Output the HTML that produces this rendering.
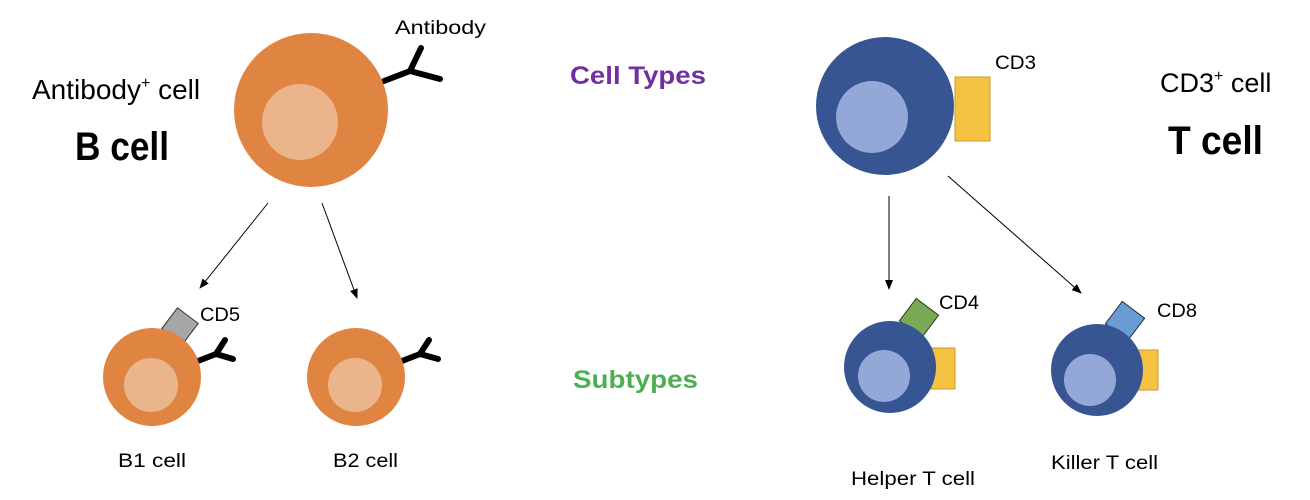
<!DOCTYPE html><html><head><style>body{margin:0;background:#fff}svg{display:block}text{font-family:"Liberation Sans",sans-serif}</style></head><body>
<svg width="1310" height="500" viewBox="0 0 1310 500">
<defs><marker id="a" markerWidth="10" markerHeight="8" refX="9" refY="4" orient="auto" markerUnits="userSpaceOnUse"><path d="M0,0L10,4L0,8z" fill="#000"/></marker></defs>
<g fill="none" stroke="#000" stroke-width="1">
<line x1="268" y1="203" x2="200" y2="288" marker-end="url(#a)"/>
<line x1="322" y1="203" x2="357" y2="298" marker-end="url(#a)"/>
<line x1="889" y1="196" x2="889" y2="289" marker-end="url(#a)"/>
<line x1="948" y1="176" x2="1081" y2="293" marker-end="url(#a)"/>
</g>
<g stroke="#000" stroke-width="6" fill="none" stroke-linecap="round" stroke-linejoin="round">
<path d="M384,81L410,71L421,48M410,71L440,79"/>
<path d="M198,361L216,354L225,340M216,354L233,359"/>
<path d="M402,361L420,354L429,340M420,354L438,359"/>
</g>
<circle cx="311" cy="110" r="77" fill="#e08442"/><circle cx="300" cy="122" r="38" fill="#ebb58c"/>
<rect x="167" y="313" width="26" height="26" fill="#a6a6a6" stroke="#333" transform="rotate(37 180 326)"/>
<circle cx="152" cy="377" r="49" fill="#e08442"/><circle cx="151" cy="385" r="27" fill="#ebb58c"/>
<circle cx="356" cy="377" r="49" fill="#e08442"/><circle cx="355" cy="385" r="27" fill="#ebb58c"/>
<rect x="955" y="77" width="35" height="64" fill="#f5c242" stroke="#c89a2a"/>
<circle cx="885" cy="106" r="69" fill="#385593"/><circle cx="872" cy="117" r="36" fill="#94a8d8"/>
<rect x="931" y="348" width="24" height="41" fill="#f5c242" stroke="#c89a2a"/>
<rect x="905" y="304" width="28" height="28" fill="#78a955" stroke="#2a3a1a" transform="rotate(37 919 318)"/>
<circle cx="890" cy="367" r="46" fill="#385593"/><circle cx="884" cy="376" r="26" fill="#94a8d8"/>
<rect x="1135" y="350" width="23" height="40" fill="#f5c242" stroke="#c89a2a"/>
<rect x="1111" y="307" width="28" height="28" fill="#6a9bd1" stroke="#1f2f4a" transform="rotate(37 1125 321)"/>
<circle cx="1097" cy="370" r="46" fill="#385593"/><circle cx="1090" cy="380" r="26" fill="#94a8d8"/>
<text x="395" y="34" font-size="19" textLength="91" lengthAdjust="spacingAndGlyphs">Antibody</text>
<text x="32" y="99" font-size="28">Antibody<tspan font-size="16" dy="-11">+</tspan><tspan dy="11"> cell</tspan></text>
<text x="75" y="160" font-size="40" font-weight="bold" textLength="94" lengthAdjust="spacingAndGlyphs">B cell</text>
<text x="570" y="84" font-size="25" font-weight="bold" fill="#7030a0" textLength="136" lengthAdjust="spacingAndGlyphs">Cell Types</text>
<text x="573" y="388" font-size="25" font-weight="bold" fill="#4caf50" textLength="125" lengthAdjust="spacingAndGlyphs">Subtypes</text>
<text x="995" y="69" font-size="19" textLength="41" lengthAdjust="spacingAndGlyphs">CD3</text>
<text x="1160" y="92" font-size="27">CD3<tspan font-size="16" dy="-11">+</tspan><tspan dy="11"> cell</tspan></text>
<text x="1168" y="154" font-size="40" font-weight="bold" textLength="95" lengthAdjust="spacingAndGlyphs">T cell</text>
<text x="200" y="321" font-size="19" textLength="40" lengthAdjust="spacingAndGlyphs">CD5</text>
<text x="939" y="309" font-size="19" textLength="40" lengthAdjust="spacingAndGlyphs">CD4</text>
<text x="1157" y="317" font-size="19" textLength="40" lengthAdjust="spacingAndGlyphs">CD8</text>
<text x="118" y="467" font-size="19" textLength="68" lengthAdjust="spacingAndGlyphs">B1 cell</text>
<text x="333" y="467" font-size="19" textLength="65" lengthAdjust="spacingAndGlyphs">B2 cell</text>
<text x="851" y="485" font-size="19" textLength="124" lengthAdjust="spacingAndGlyphs">Helper T cell</text>
<text x="1051" y="469" font-size="19" textLength="107" lengthAdjust="spacingAndGlyphs">Killer T cell</text>
</svg></body></html>
